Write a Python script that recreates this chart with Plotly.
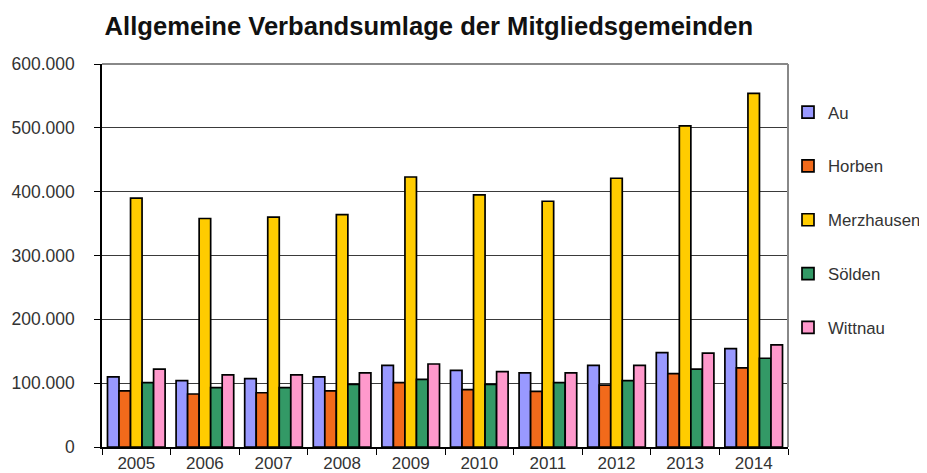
import plotly.graph_objects as go

years = ["2005", "2006", "2007", "2008", "2009", "2010", "2011", "2012", "2013", "2014"]
au = [110000, 104000, 107000, 110000, 128000, 120000, 116000, 128000, 148000, 154000]
horben = [88000, 83000, 85000, 88000, 101000, 90000, 87000, 97000, 115000, 124000]
merzhausen = [390000, 358000, 360000, 364000, 423000, 395000, 385000, 421000, 503000, 554000]
soelden = [101000, 93000, 93000, 98000, 106000, 98000, 101000, 104000, 122000, 139000]
wittnau = [122000, 113000, 113000, 116000, 130000, 118000, 116000, 128000, 147000, 160000]

series_names = ["Au", "Horben", "Merzhausen", "Sölden", "Wittnau"]
series_values = [au, horben, merzhausen, soelden, wittnau]
colors = ["#9999FF", "#F26A1B", "#FFCC00", "#339966", "#FF99CC"]

y_tickvals = [0, 100000, 200000, 300000, 400000, 500000, 600000]
y_ticktext = ["0", "100.000", "200.000", "300.000", "400.000", "500.000", "600.000"]

fig = go.Figure()
for name, vals, col in zip(series_names, series_values, colors):
    fig.add_trace(go.Bar(
        x=years, y=vals, name=name, legendgroup=name,
        marker=dict(color=col, line=dict(color="#000000", width=1.7)),
    ))

font_family = "Liberation Sans, Arial, sans-serif"
txt_color = "#333333"

fig.update_layout(
    width=927, height=473,
    margin=dict(l=94, r=147, t=56, b=34, autoexpand=False),
    paper_bgcolor="white", plot_bgcolor="white",
    barmode="group", bargap=0.16, bargroupgap=0,
    font=dict(family=font_family, size=17, color=txt_color),
    title=dict(text="<b>Allgemeine Verbandsumlage der Mitgliedsgemeinden</b>",
               x=0.454, xanchor="center", y=0.961, yanchor="middle",
               xref="container", yref="container",
               font=dict(family=font_family, size=25.6, color="#111111")),
    legend=dict(x=1.0, xanchor="left", y=0.92, yanchor="top",
                tracegroupgap=29, itemwidth=30,
                font=dict(family=font_family, size=16.8, color=txt_color),
                bgcolor="rgba(0,0,0,0)"),
    xaxis=dict(type="category", showline=True, linecolor="#000000", linewidth=1.5,
               ticks="outside", tickson="boundaries", ticklen=6, tickcolor="#000000",
               showgrid=False, mirror=False, automargin=False,
               tickfont=dict(size=17, color=txt_color)),
    yaxis=dict(range=[0, 600000], tickvals=y_tickvals, ticktext=y_ticktext,
               showline=True, linecolor="#000000", linewidth=1.5,
               ticks="outside", ticklen=6, tickcolor="#000000",
               showgrid=True, gridcolor="#3a3a3a", gridwidth=1,
               zeroline=False, ticklabelstandoff=16, automargin=False,
               tickfont=dict(size=17.5, color=txt_color)),
)

# gray border on top and right of plot area
fig.add_shape(type="line", xref="paper", yref="paper", x0=0, x1=1, y0=1, y1=1,
              line=dict(color="#888888", width=2))
fig.add_shape(type="line", xref="paper", yref="paper", x0=1, x1=1, y0=0, y1=1,
              line=dict(color="#888888", width=2))

fig.write_html("out.html")
